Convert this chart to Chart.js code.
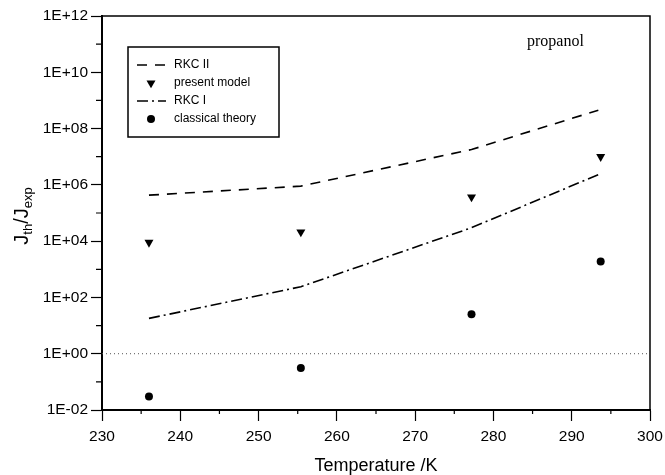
<!DOCTYPE html>
<html>
<head>
<meta charset="utf-8">
<script src="https://cdn.jsdelivr.net/npm/chart.js@4"></script>
<style>
  body { margin: 0; background: #fff; }
  canvas { display: block; }
</style>
</head>
<body>
<canvas id="nucleation" width="665" height="475"></canvas>
<script>
// values (propanol, J_th / J_exp vs temperature)
const temps = [236.0, 255.4, 277.2, 293.7];
const presentModel = [9e3, 2.1e4, 3.7e5, 1.0e7];
const classicalTheory = [0.03, 0.31, 25, 1.9e3];

const lineTemps = [236.0, 255.4, 277.2, 293.4];
const rkc2 = [4.3e5, 9e5, 1.8e7, 4.5e8];
const rkc1 = [18, 240, 3e4, 2.3e6];

const unityX = [230, 300];
const unityY = [1, 1];

const yMajorExp = [-2, 0, 2, 4, 6, 8, 10, 12];
const yMinorExp = [-1, 1, 3, 5, 7, 9, 11];
const xMinor = [235, 245, 255, 265, 275, 285, 295];

const FONT = "'Liberation Sans', Arial, sans-serif";

function pts(xs, ys) {
  return xs.map((x, i) => ({ x: x, y: ys[i] }));
}

function sciLabel(v) {
  var e = Math.round(Math.log10(v));
  return '1E' + (e < 0 ? '-' : '+') + String(Math.abs(e)).padStart(2, '0');
}

// frame, minor ticks, axis title with subscripts, note and legend box
const decor = {
  id: 'decor',
  afterDraw(chart) {
    const ctx = chart.ctx;
    const a = chart.chartArea;
    const x = chart.scales.x, y = chart.scales.y;
    ctx.save();
    ctx.strokeStyle = '#000';
    ctx.fillStyle = '#000';

    ctx.lineWidth = 1.5;
    ctx.beginPath();
    ctx.moveTo(a.left, a.top);
    ctx.lineTo(a.right, a.top);
    ctx.lineTo(a.right, a.bottom);
    ctx.stroke();

    ctx.lineWidth = 1.2;
    ctx.beginPath();
    yMinorExp.forEach(function (e) {
      var py = y.getPixelForValue(Math.pow(10, e));
      ctx.moveTo(a.left - 6, py);
      ctx.lineTo(a.left, py);
    });
    xMinor.forEach(function (v) {
      var px = x.getPixelForValue(v);
      ctx.moveTo(px, a.bottom);
      ctx.lineTo(px, a.bottom + 4);
    });
    ctx.stroke();

    // y title J_th / J_exp
    ctx.save();
    ctx.translate(22, 216);
    ctx.rotate(-Math.PI / 2);
    ctx.textBaseline = 'middle';
    ctx.textAlign = 'left';
    var big = '20px ' + FONT, small = '13px ' + FONT;
    var parts = [['J', big, 0], ['th', small, 6], ['/J', big, 0], ['exp', small, 6]];
    var w = 0;
    parts.forEach(function (p) { ctx.font = p[1]; w += ctx.measureText(p[0]).width; });
    var cx = -w / 2;
    parts.forEach(function (p) {
      ctx.font = p[1];
      ctx.fillText(p[0], cx, p[2]);
      cx += ctx.measureText(p[0]).width;
    });
    ctx.restore();

    ctx.font = "16px 'Liberation Serif', 'Times New Roman', serif";
    ctx.textBaseline = 'middle';
    ctx.textAlign = 'left';
    ctx.fillText('propanol', 527, 42);

    // legend
    ctx.lineWidth = 1.5;
    ctx.strokeRect(128, 47, 151, 90);
    var items = chart.data.datasets.filter(function (d) { return d.inLegend; });
    items.forEach(function (d, i) {
      var ly = 65 + i * 18;
      if (d.showLine) {
        ctx.save();
        ctx.lineWidth = d.borderWidth;
        ctx.setLineDash(d.borderDash);
        ctx.beginPath();
        ctx.moveTo(137, ly);
        ctx.lineTo(166, ly);
        ctx.stroke();
        ctx.restore();
      } else {
        Chart.helpers.drawPoint(ctx, {
          pointStyle: d.pointStyle,
          rotation: d.pointRotation || 0,
          radius: d.pointRadius,
          borderWidth: 0
        }, 151, ly);
      }
      ctx.font = '12px ' + FONT;
      ctx.fillStyle = '#000';
      ctx.textBaseline = 'middle';
      ctx.fillText(d.label, 174, ly);
    });
    ctx.restore();
  }
};

new Chart(document.getElementById('nucleation'), {
  type: 'scatter',
  data: {
    datasets: [
      {
        label: 'RKC II',
        data: pts(lineTemps, rkc2),
        showLine: true,
        borderColor: '#000',
        borderWidth: 1.6,
        borderDash: [10, 8],
        pointRadius: 0,
        tension: 0,
        inLegend: true
      },
      {
        label: 'present model',
        data: pts(temps, presentModel),
        pointStyle: 'triangle',
        pointRotation: 180,
        pointRadius: 5.2,
        backgroundColor: '#000',
        borderColor: '#000',
        borderWidth: 0,
        inLegend: true
      },
      {
        label: 'RKC I',
        data: pts(lineTemps, rkc1),
        showLine: true,
        borderColor: '#000',
        borderWidth: 1.6,
        borderDash: [11, 4, 2, 4],
        pointRadius: 0,
        tension: 0,
        inLegend: true
      },
      {
        label: 'classical theory',
        data: pts(temps, classicalTheory),
        pointStyle: 'circle',
        pointRadius: 4,
        backgroundColor: '#000',
        borderColor: '#000',
        borderWidth: 0,
        inLegend: true
      },
      {
        label: 'unity',
        data: pts(unityX, unityY),
        showLine: true,
        borderColor: '#555',
        borderWidth: 1,
        borderDash: [1, 3],
        pointRadius: 0,
        inLegend: false
      }
    ]
  },
  options: {
    responsive: false,
    animation: false,
    layout: { padding: { top: 16, right: 15, left: 0, bottom: 0 } },
    plugins: {
      legend: { display: false },
      tooltip: { enabled: false }
    },
    scales: {
      x: {
        type: 'linear',
        min: 230,
        max: 300,
        afterFit: function (s) { s.height = 65; s.paddingRight = 2; s.paddingLeft = 2; },
        ticks: {
          stepSize: 10,
          color: '#000',
          padding: 6,
          maxRotation: 0,
          font: { family: FONT, size: 15.5 }
        },
        grid: { drawOnChartArea: false, tickLength: 11, color: '#000', tickWidth: 1.2 },
        border: { display: true, color: '#000', width: 2 },
        title: {
          display: true,
          text: 'Temperature /K',
          color: '#000',
          font: { family: FONT, size: 18, lineHeight: 1 },
          padding: { top: 0, bottom: 0 }
        }
      },
      y: {
        type: 'logarithmic',
        min: 1e-2,
        max: 1e12,
        afterFit: function (s) { s.width = 102; },
        afterBuildTicks: function (s) {
          s.ticks = yMajorExp.map(function (e) { return { value: Math.pow(10, e) }; });
        },
        ticks: {
          color: '#000',
          padding: 3,
          font: { family: FONT, size: 15.5 },
          callback: function (v) { return sciLabel(v); }
        },
        grid: { drawOnChartArea: false, tickLength: 11, color: '#000', tickWidth: 1.2 },
        border: { display: true, color: '#000', width: 2 }
      }
    }
  },
  plugins: [decor]
});
</script>
</body>
</html>
